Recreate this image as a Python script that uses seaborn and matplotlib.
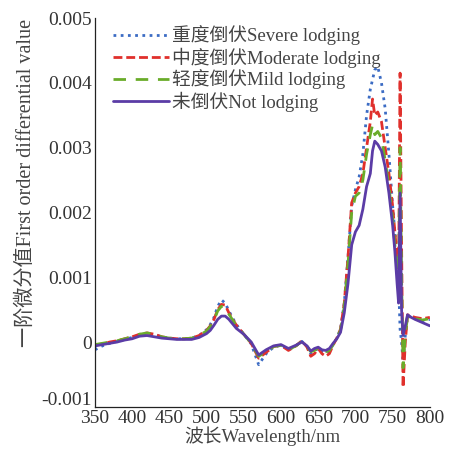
import numpy as np
import pandas as pd
import matplotlib
matplotlib.use("Agg")
import matplotlib.pyplot as plt
import matplotlib.transforms as mtransforms
import seaborn as sns
from matplotlib.ticker import FuncFormatter

# wavelengths (nm)
wavelength = [350, 360, 370, 380, 390, 400, 410, 420, 430, 440, 450, 460, 470, 480, 490,
              500, 505, 510, 515, 520, 525, 530, 535, 540, 550, 560, 570, 580, 590, 600,
              610, 620, 628, 635, 640, 645, 650, 655, 660, 665, 670, 675, 680, 685, 690,
              695, 700, 705, 710, 715, 720, 723, 726, 730, 735, 740, 745, 750, 753, 756,
              758, 760, 762, 764, 767, 770, 775, 780, 790, 800]

# first order differential values, in units of 0.001
severe = [-0.12, -0.06, -0.02, 0.01, 0.04, 0.07, 0.11, 0.13, 0.11, 0.08, 0.06, 0.05, 0.05, 0.06, 0.10,
          0.19, 0.27, 0.38, 0.55, 0.65, 0.60, 0.48, 0.37, 0.27, 0.12, -0.03, -0.35, -0.18, -0.08, -0.05,
          -0.12, -0.06, 0.01, -0.07, -0.18, -0.15, -0.09, -0.15, -0.17, -0.14, -0.04, 0.06, 0.2, 0.6, 1.3,
          2.1, 2.35, 2.55, 2.9, 3.5, 3.9, 4.05, 4.2, 4.25, 4.0, 3.6, 2.9, 2.1, 1.7, 1.3,
          0.9, 0.2, 0.0, -0.3, 0.1, 0.4, 0.38, 0.36, 0.33, 0.35]
moderate = [-0.05, -0.03, 0.0, 0.02, 0.05, 0.08, 0.12, 0.14, 0.12, 0.08, 0.06, 0.05, 0.05, 0.06, 0.10,
            0.18, 0.25, 0.35, 0.50, 0.58, 0.57, 0.45, 0.35, 0.26, 0.12, -0.02, -0.25, -0.16, -0.07, -0.05,
            -0.13, -0.06, 0.02, -0.08, -0.22, -0.18, -0.10, -0.18, -0.22, -0.18, -0.05, 0.06, 0.2, 0.6, 1.3,
            2.15, 2.3, 2.4, 2.6, 3.0, 3.4, 3.75, 3.5, 3.55, 3.4, 3.0, 2.6, 2.1, 1.7, 1.3,
            1.0, 4.15, 1.5, -0.7, 0.0, 0.42, 0.40, 0.38, 0.36, 0.38]
mild = [-0.04, -0.02, 0.0, 0.02, 0.05, 0.08, 0.12, 0.14, 0.12, 0.08, 0.06, 0.05, 0.05, 0.06, 0.10,
        0.17, 0.24, 0.34, 0.48, 0.55, 0.54, 0.43, 0.34, 0.25, 0.12, -0.02, -0.22, -0.15, -0.07, -0.05,
        -0.12, -0.06, 0.01, -0.07, -0.15, -0.13, -0.09, -0.14, -0.15, -0.13, -0.04, 0.06, 0.18, 0.55, 1.2,
        2.0, 2.25, 2.3, 2.5, 2.9, 3.2, 3.35, 3.2, 3.25, 3.15, 2.8, 2.4, 1.9, 1.5, 1.1,
        0.9, 3.0, 1.0, -0.4, 0.1, 0.4, 0.38, 0.36, 0.34, 0.36]
not_lodging = [-0.06, -0.04, -0.02, 0.0, 0.03, 0.05, 0.09, 0.10, 0.08, 0.06, 0.05, 0.04, 0.04, 0.04, 0.07,
               0.13, 0.18, 0.26, 0.35, 0.40, 0.40, 0.35, 0.28, 0.21, 0.12, 0.0, -0.20, -0.12, -0.06, -0.04,
               -0.10, -0.05, 0.0, -0.06, -0.14, -0.10, -0.08, -0.12, -0.13, -0.10, -0.02, 0.05, 0.15, 0.45, 0.9,
               1.5, 1.7, 1.8, 2.05, 2.4, 2.6, 2.95, 3.1, 3.05, 2.95, 2.7, 2.3, 1.8, 1.4, 0.9,
               0.6, 2.3, 0.5, 0.1, 0.25, 0.42, 0.38, 0.35, 0.3, 0.25]

labels = ["重度倒伏Severe lodging", "中度倒伏Moderate lodging", "轻度倒伏Mild lodging", "未倒伏Not lodging"]
colors = ["#3c6cc4", "#e0302c", "#6aac2a", "#5b3ca6"]
dashes = [(0, (1, 1.6)), (0, (3.2, 1.4)), (0, (4.5, 3.5)), "-"]

sns.set_style("white")
plt.rcParams['font.family'] = ['Liberation Serif', 'Noto Sans CJK SC']
plt.rcParams['axes.unicode_minus'] = False

df = pd.DataFrame({"wl": wavelength})
for name, vals in zip(labels, [severe, moderate, mild, not_lodging]):
    df[name] = np.array(vals) * 1e-3

fig = plt.figure(figsize=(4.52, 4.51), dpi=100)
ax = fig.add_axes([0.210, 0.098, 0.741, 0.862])

for name, c, ls in zip(labels, colors, dashes):
    sns.lineplot(data=df, x="wl", y=name, ax=ax, color=c, linestyle=ls,
                 linewidth=2.0, label=name)

ax.set_xlim(350, 800)
ax.set_ylim(-0.001, 0.005)
ax.set_xticks(range(350, 801, 50))
ax.set_yticks([-0.001, 0, 0.001, 0.002, 0.003, 0.004, 0.005])
ax.yaxis.set_major_formatter(FuncFormatter(lambda v, p: f"{round(v, 6):g}"))
ax.tick_params(direction="in", length=4, width=0.8, labelsize=14, colors="#333333", pad=2)
for s in ["top", "right"]:
    ax.spines[s].set_visible(False)
for s in ["left", "bottom"]:
    ax.spines[s].set_color("#222222")
    ax.spines[s].set_linewidth(0.9)

# lift the lowest y label a little so it clears "350", as in the original
fig.canvas.draw()
low = ax.get_yticklabels()[0]
low.set_transform(low.get_transform() + mtransforms.ScaledTranslation(0, 6 / 72, fig.dpi_scale_trans))

ax.set_xlabel("波长Wavelength/nm", fontsize=13.5, labelpad=0, color="#444444")
ax.set_ylabel("一阶微分值First order differential value", fontsize=14.5, color="#444444")
ax.yaxis.set_label_coords(-0.175, 0.575)

leg = ax.legend(loc="upper left", frameon=False, fontsize=13.5, handlelength=3.0,
                handletextpad=0.15, labelspacing=0.1, borderaxespad=0.0,
                bbox_to_anchor=(0.032, 1.0))
for t in leg.get_texts():
    t.set_color("#444444")

fig.savefig("out.png", dpi=100)
